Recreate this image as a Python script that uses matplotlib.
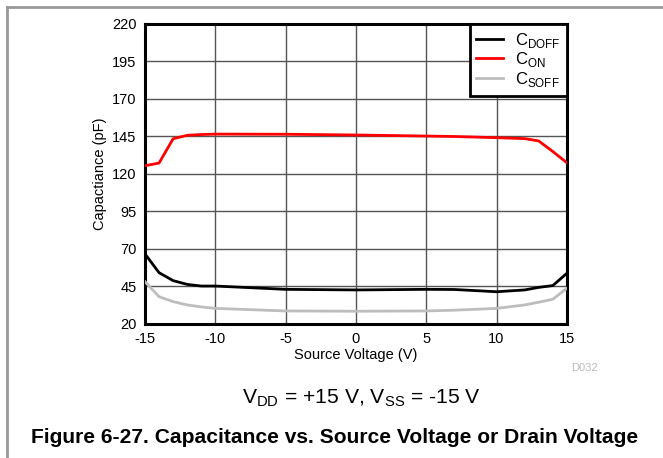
import numpy as np
import matplotlib
matplotlib.use("Agg")
import matplotlib.pyplot as plt
from matplotlib.lines import Line2D

plt.rcParams['font.family'] = ['Liberation Sans', 'DejaVu Sans']
plt.rcParams['mathtext.fontset'] = 'custom'
plt.rcParams['mathtext.rm'] = 'Liberation Sans'
plt.rcParams['axes.unicode_minus'] = False

voltage = [-15, -14, -13, -12, -11, -10, -5, 0, 5, 7, 10, 12, 13, 14, 15]
c_doff = [66.7, 54.2, 48.9, 46.4, 45.3, 45.3, 43.1, 42.7, 43.1, 43.0, 41.5, 42.7, 44.4, 45.6, 53.8]
c_on = [125.5, 127.3, 143.5, 145.8, 146.3, 146.6, 146.5, 146.0, 145.3, 145.0, 144.2, 143.6, 142.0, 135.0, 127.5]
c_soff = [48.2, 38.2, 34.9, 32.7, 31.4, 30.4, 28.7, 28.5, 28.7, 29.2, 30.4, 32.7, 34.5, 36.5, 43.8]

xticks = [-15, -10, -5, 0, 5, 10, 15]
yticks = [20, 45, 70, 95, 120, 145, 170, 195, 220]

fig = plt.figure(figsize=(6.63, 4.58), dpi=100)
ax = fig.add_axes([0.2187, 0.2926, 0.855 - 0.2187, 0.9476 - 0.2926])

ax.plot(voltage, c_doff, color='black', lw=2, label=r'C$_{\mathregular{DOFF}}$', zorder=3)
ax.plot(voltage, c_on, color='#ff0000', lw=2, label=r'C$_{\mathregular{ON}}$', zorder=3)
ax.plot(voltage, c_soff, color='#bdbdbd', lw=2, label=r'C$_{\mathregular{SOFF}}$', zorder=3)

ax.set_xlim(-15, 15)
ax.set_ylim(20, 220)
ax.set_xticks(xticks)
ax.set_yticks(yticks)
ax.grid(True, color='#555555', lw=1)
ax.tick_params(length=0, labelsize=10.5, pad=6)
for s in ax.spines.values():
    s.set_linewidth(2.2)
ax.set_xlabel('Source Voltage (V)', fontsize=10.5, labelpad=1)
ax.set_ylabel('Capactiance (pF)', fontsize=10.5, labelpad=4)

leg = ax.legend(loc='upper right', fancybox=False, framealpha=1, edgecolor='black',
                fontsize=12, borderaxespad=0, handlelength=1.6, labelspacing=0.04,
                borderpad=0.4, handletextpad=0.7)
leg.get_frame().set_linewidth(2)

fig.text(0.882, 0.196, 'D032', color='#bbbbbb', fontsize=8, ha='center', va='center')
fig.text(0.545, 0.13, r'V$_{\mathregular{DD}}$ = +15 V, V$_{\mathregular{SS}}$ = -15 V',
         fontsize=15.2, ha='center', va='center')
fig.text(0.504, 0.045, 'Figure 6-27. Capacitance vs. Source Voltage or Drain Voltage',
         fontsize=15.1, fontweight='bold', ha='center', va='center')

fig.add_artist(Line2D([0.011, 0.011], [0, 0.985], color='#999999', lw=2, transform=fig.transFigure))
fig.add_artist(Line2D([0.011, 1.0], [0.985, 0.985], color='#999999', lw=2, transform=fig.transFigure))

fig.savefig('out.png', dpi=100)
